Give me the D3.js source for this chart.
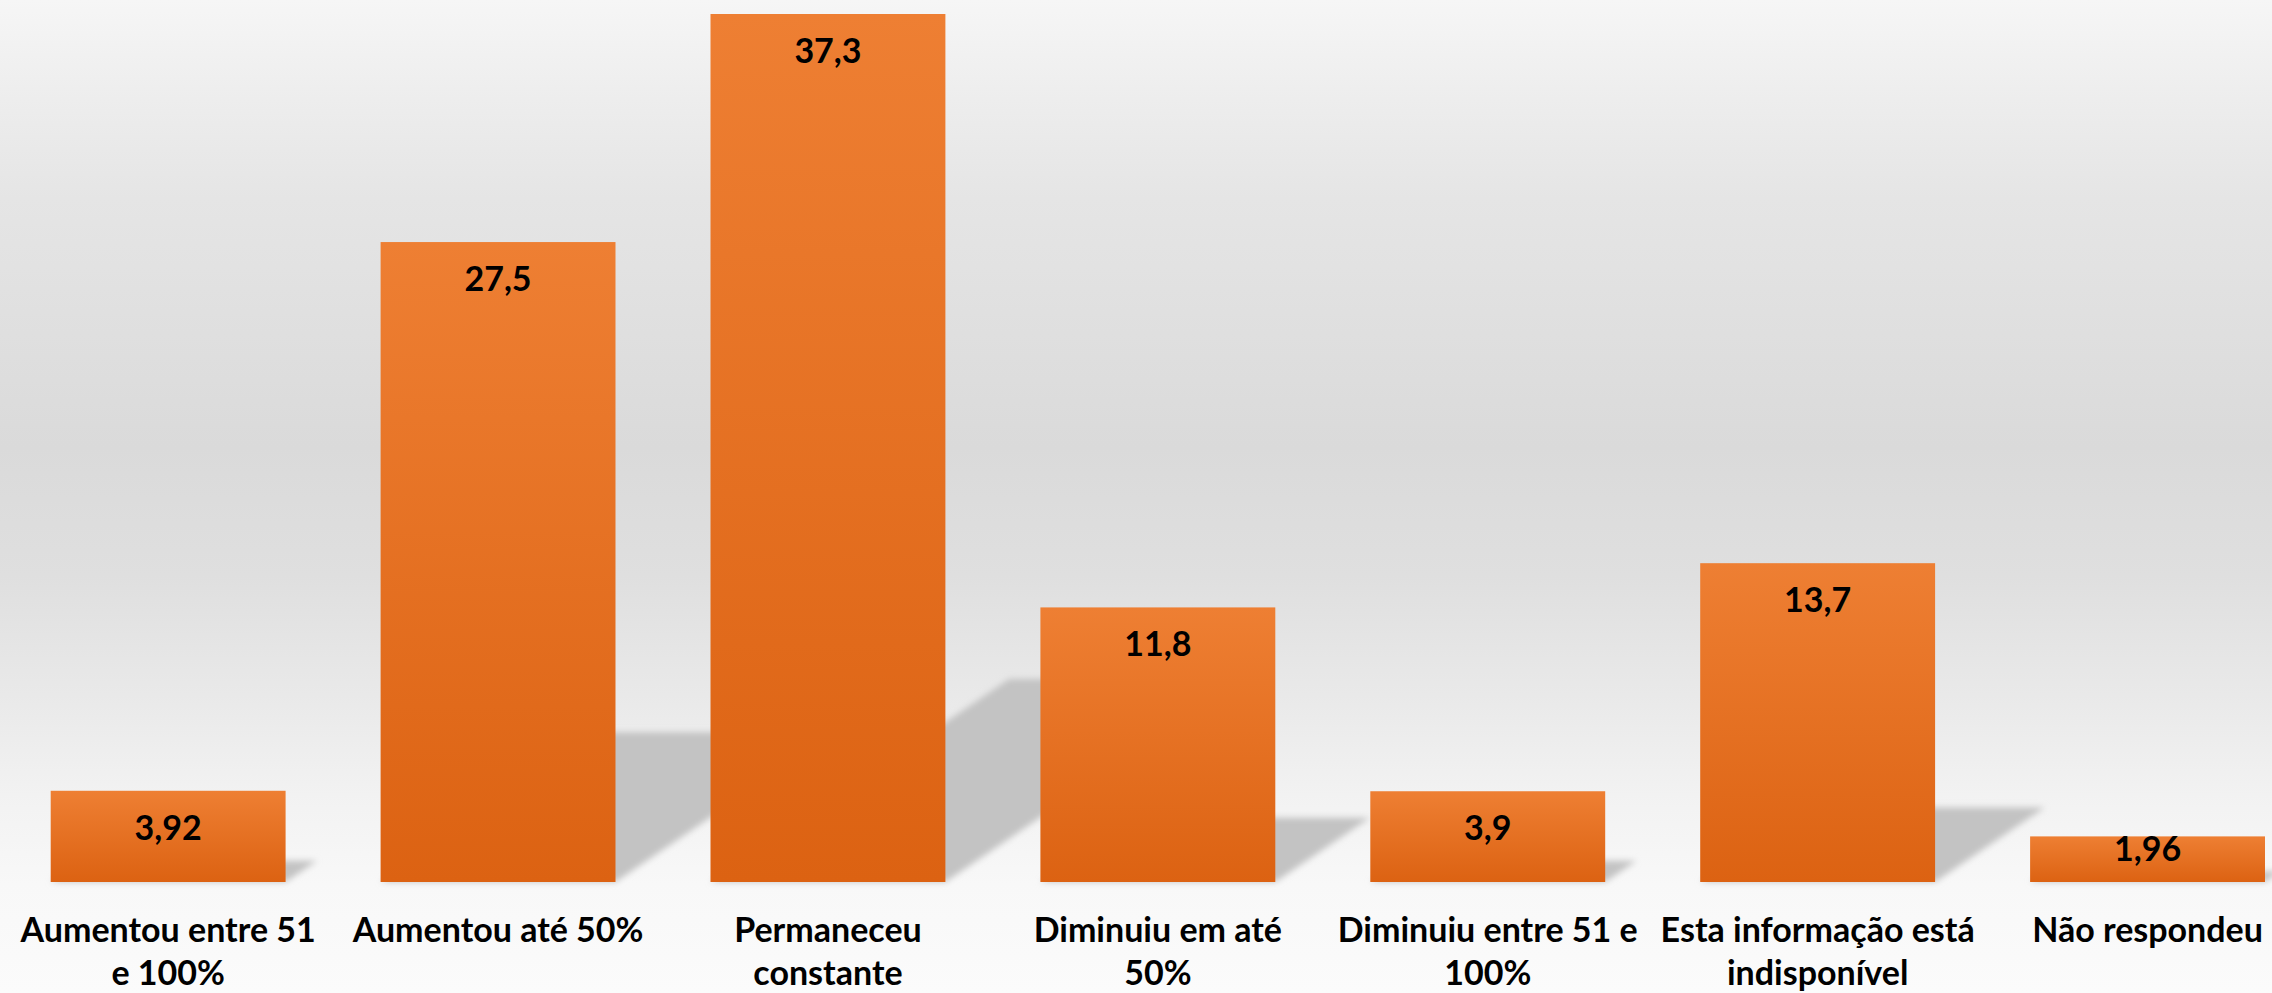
<!DOCTYPE html>
<html>
<head>
<meta charset="utf-8">
<script src="https://cdn.jsdelivr.net/npm/d3@7"></script>
<style>
  html, body { margin: 0; padding: 0; background: #fafafa; }
  svg { display: block; }
  text { font-family: Lato, "Open Sans", sans-serif; font-weight: 700; fill: #000; }
</style>
</head>
<body>
<svg id="chart" width="2272" height="993"></svg>
<script>
// ---- data ----
const categories = [
  "Aumentou entre 51\ne 100%",
  "Aumentou até 50%",
  "Permaneceu\nconstante",
  "Diminuiu em até\n50%",
  "Diminuiu entre 51 e\n100%",
  "Esta informação está\nindisponível",
  "Não respondeu"
];
const values = [3.92, 27.5, 37.3, 11.8, 3.9, 13.7, 1.96];
const valueLabels = ["3,92", "27,5", "37,3", "11,8", "3,9", "13,7", "1,96"];

// ---- layout ----
const W = 2272, H = 993;
const baseline = 882, topY = 14;
const svg = d3.select("#chart");
const defs = svg.append("defs");

const bg = defs.append("linearGradient").attr("id", "bg").attr("x1", 0).attr("y1", 0).attr("x2", 0).attr("y2", 1);
[[0, "#f6f6f6"], [0.1, "#ededed"], [0.2, "#e5e5e5"], [0.45, "#dadada"], [0.58, "#dfdfdf"],
 [0.7, "#e9e9e9"], [0.8, "#f2f2f2"], [0.89, "#f8f8f8"], [1, "#fbfbfb"]]
  .forEach(([o, c]) => bg.append("stop").attr("offset", o).attr("stop-color", c));

const barGrad = defs.append("linearGradient").attr("id", "barGrad").attr("x1", 0).attr("y1", 0).attr("x2", 0).attr("y2", 1);
barGrad.append("stop").attr("offset", 0).attr("stop-color", "#ee7f33");
barGrad.append("stop").attr("offset", 1).attr("stop-color", "#dc6212");

const blur = defs.append("filter").attr("id", "blur").attr("x", "-20%").attr("y", "-20%").attr("width", "140%").attr("height", "140%");
blur.append("feGaussianBlur").attr("stdDeviation", 3);

svg.append("rect").attr("width", W).attr("height", H).attr("fill", "url(#bg)");

const x = d3.scaleBand().domain(categories).range([50.7, 2265]).paddingInner(0.288).paddingOuter(0);
const y = d3.scaleLinear().domain([0, d3.max(values)]).range([baseline, topY]);

const data = categories.map((c, i) => ({ c, v: values[i], label: valueLabels[i] }));

// perspective shadows
const shadowRatio = 0.234, skew = 1.47;
svg.append("g").attr("filter", "url(#blur)")
  .selectAll("path").data(data).join("path")
  .attr("fill", "#c3c3c3")
  .attr("d", d => {
    const x0 = x(d.c), x1 = x0 + x.bandwidth();
    const sh = (baseline - y(d.v)) * shadowRatio;
    const dx = sh * skew;
    return `M${x0},${baseline} L${x1},${baseline} L${x1 + dx},${baseline - sh} L${x0 + dx},${baseline - sh} Z`;
  });

// bars
svg.append("g").selectAll("rect").data(data).join("rect")
  .attr("x", d => x(d.c))
  .attr("y", d => y(d.v))
  .attr("width", x.bandwidth())
  .attr("height", d => baseline - y(d.v))
  .attr("fill", "url(#barGrad)");

// value labels
svg.append("g").selectAll("text").data(data).join("text")
  .attr("x", d => x(d.c) + x.bandwidth() / 2)
  .attr("y", d => { const h = baseline - y(d.v); return y(d.v) + Math.min(49, h - 21); })
  .attr("text-anchor", "middle")
  .attr("font-size", 34)
  .text(d => d.label);

// category labels (x axis)
const xAxis = svg.append("g").attr("transform", `translate(0,${baseline})`)
  .call(d3.axisBottom(x).tickSize(0).tickFormat(""));
xAxis.select(".domain").remove();
xAxis.selectAll(".tick").each(function (d) {
  const t = d3.select(this).append("text")
    .attr("text-anchor", "middle")
    .attr("font-size", 34)
    .attr("y", 60);
  d.split("\n").forEach((line, i) => {
    t.append("tspan").attr("x", 0).attr("dy", i === 0 ? 0 : 43).text(line);
  });
});
</script>
</body>
</html>
